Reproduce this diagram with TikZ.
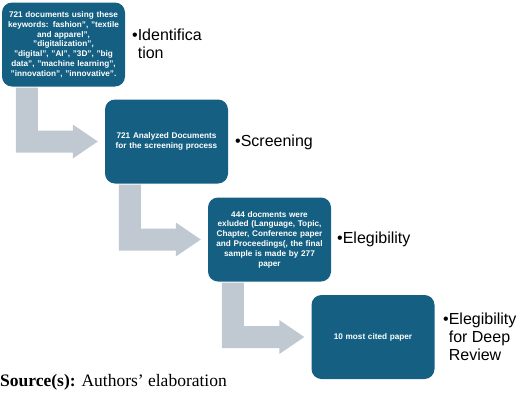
\documentclass[tikz,border=0pt]{standalone}
\usepackage{fontspec}
\setmainfont{Liberation Sans}
\newfontfamily\srcserif{Liberation Serif}
\usetikzlibrary{calc}
\definecolor{boxblue}{RGB}{21,96,130}
\definecolor{arrowgray}{RGB}{192,201,209}
\newcommand\stagearrow[2]{%
  \fill[arrowgray] let \p1=($(#1.south west)+(14,-1)$), \p2=($(#2.west)+(-7,0)$) in
    (\x1,\y1) -- (\x1+22,\y1) -- (\x1+22,\y2+11) -- (\x2-25,\y2+11) -- (\x2-25,\y2+17)
    -- (\x2,\y2) -- (\x2-25,\y2-17) -- (\x2-25,\y2-11) -- (\x1,\y2-11) -- cycle;}
\begin{document}
\begin{tikzpicture}[x=1pt,y=1pt,
  stagebox/.style={fill=boxblue, rounded corners=10pt, minimum width=123pt, minimum height=84pt,
    text width=121pt, align=center, text=white, inner sep=0pt,
    font=\bfseries\fontsize{8.2}{9.8}\selectfont},
  stagelabel/.style={anchor=west, align=left, inner sep=0pt, font=\fontsize{16}{18}\selectfont}]
\useasboundingbox (0,0) rectangle (520,-400);
\node[stagebox] (b1) at (63.5,-44.5) {721 documents using these\\keywords: fashion", "textile\\and apparel",\\"digitalization",\\"digital", "AI", "3D", "big\\data", "machine learning",\\"innovation", "innovative".};
\node[stagebox] (b2) at (166.5,-141.5) {721 Analyzed Documents\\for the screening process};
\node[stagebox] (b3) at (269.5,-239.5) {444 docments were\\exluded (Language, Topic,\\Chapter, Conference paper\\and Proceedings(, the final\\sample is made by 277\\paper};
\node[stagebox] (b4) at (373,-337) {10 most cited paper};
\stagearrow{b1}{b2}
\stagearrow{b2}{b3}
\stagearrow{b3}{b4}
\node[stagelabel] (l1) at (132,-43.5) {•Identifica\\\phantom{•}tion};
\node[stagelabel] (l2) at (235,-142) {•Screening};
\node[stagelabel] (l3) at (337,-239) {•Elegibility};
\node[stagelabel] (l4) at (443,-337) {•Elegibility\\\phantom{•}for Deep\\\phantom{•}Review};
\node[anchor=west, inner sep=0pt, font=\srcserif\fontsize{17.5}{20}\selectfont] (src) at (0,-382) {\textbf{Source(s):} Authors’ elaboration};
\end{tikzpicture}
\end{document}
